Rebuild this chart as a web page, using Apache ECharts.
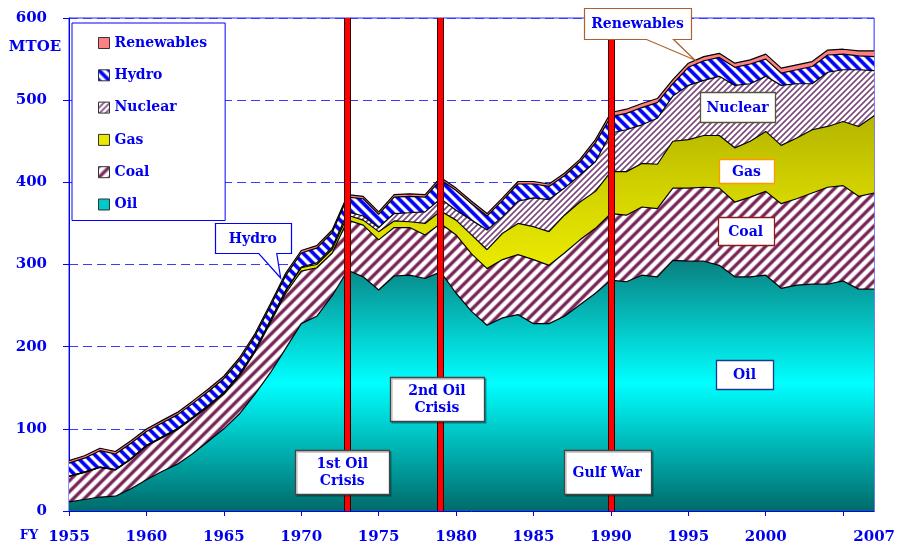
<!DOCTYPE html>
<html><head><meta charset="utf-8">
<script src="https://cdn.jsdelivr.net/npm/echarts@6/dist/echarts.min.js"></script>
<style>html,body{margin:0;padding:0;background:#fff}#c{width:898px;height:547px}</style>
</head><body><div id="c"></div><script>
// ---- data (MTOE) ----
const years = ['1955','1956','1957','1958','1959','1960','1961','1962','1963','1964','1965','1966','1967','1968','1969','1970','1971','1972','1973','1974','1975','1976','1977','1978','1979','1980','1981','1982','1983','1984','1985','1986','1987','1988','1989','1990','1991','1992','1993','1994','1995','1996','1997','1998','1999','2000','2001','2002','2003','2004','2005','2006','2007'];
const oil = [11,14,17,18,27,38,48,57,70,85,100,118,142,168,198,228,237,262,293,285,269,286,287,283,291,265,243,226,235,239,228,228,237,251,265,281,279,287,285,305,304,304,299,285,285,287,271,275,276,276,280,270,270];
const coal = [31,33,36,32,36,41,41,42,43,42,42,46,51,61,67,64,59,52,61,63,61,59,58,53,59,71,70,69,71,73,78,71,77,79,79,81,81,83,83,88,89,90,94,91,97,102,103,105,111,118,116,113,117];
const gas = [0.3,0.3,0.4,0.4,0.5,0.8,1,1,1,1.5,2,2,2,2.5,3,4,4,4.5,6,6,10,8,7,14,15,18,23,23,32,38,40,41,46,46,45,51,53,53,54,57,59,63,64,66,68,73,71,74,77,74,78,85,94];
const nuclear = [0,0,0,0,0,0,0,0,0,0,0,0.2,0.3,0.4,0.5,1,2,2.5,4,5,5,9,11,14,15,12,18,24,20,27,35,39,33,33,36,47,51,47,56,55,66,67,72,76,70,67,73,66,56,66,63,69,55];
const hydro = [16,17,20,19,19,17,17,17,17,17,17,17,17,17,18,17,18,18,18,21,16,20,20,18,23,24,20,17,20,21,17,16,15,16,23,20,20,21,19,15,22,24,23,22,24,21,15,17,21,21,19,17,17];
const renewables = [3,3,3,3,3,3,3,3,3,3,3,3,3,3,3,3,3,3,3,3,3,3,3,3,3,3,3,3,3,3,3,3,3,3,4,5,5,5,5,5,5,5,5,5,5,6,6,6,6,6,6,6,7];
const yTicks = [0,100,200,300,400,500,600];
const xLabelYears = ['1955','1960','1965','1970','1975','1980','1985','1990','1995','2000','2007'];
const eventYears = ['1973','1979','1990'];

const F = 'DejaVu Serif';
const BLUE = '#0000ee';

function hatch(size, dir, rgb, core, soft) {
  const c = document.createElement('canvas');
  c.width = c.height = size;
  const ctx = c.getContext('2d');
  const img = ctx.createImageData(size, size);
  for (let y = 0; y < size; y++) for (let x = 0; x < size; x++) {
    let t = dir > 0 ? (x + y + 1) % size : (((x - y) % size) + size) % size;
    let d = Math.min(t, size - t) / Math.SQRT2;
    let a = d <= core ? 1 : d >= core + soft ? 0 : 1 - (d - core) / soft;
    const i = (y * size + x) * 4;
    img.data[i] = Math.round(255 + (rgb[0] - 255) * a);
    img.data[i + 1] = Math.round(255 + (rgb[1] - 255) * a);
    img.data[i + 2] = Math.round(255 + (rgb[2] - 255) * a);
    img.data[i + 3] = 255;
  }
  ctx.putImageData(img, 0, 0);
  return c;
}
const coalPat = { image: hatch(11, 1, [122, 40, 90], 0.9, 1.6), repeat: 'repeat' };
const hydroPat = { image: hatch(10, -1, [0, 0, 255], 1.2, 1.3), repeat: 'repeat' };
const nucPat = { image: hatch(6, 1, [125, 75, 125], 0.4, 1.0), repeat: 'repeat' };
const oilGrad = new echarts.graphic.LinearGradient(0, 255, 0, 511, [
  { offset: 0, color: '#0a7a7a' }, { offset: 0.5, color: '#00ffff' }, { offset: 1, color: '#006a6a' }], true);
const gasGrad = new echarts.graphic.LinearGradient(0, 110, 0, 290, [
  { offset: 0, color: '#b2b200' }, { offset: 0.5, color: '#d6d600' }, { offset: 1, color: '#f0f000' }], true);

function area(name, data, fill, z) {
  return {
    name, type: 'line', stack: 'total', data, symbol: 'none', z: z || 2,
    lineStyle: { color: '#000', width: 1.2 },
    areaStyle: { color: fill, opacity: 1 },
    emphasis: { disabled: true }, silent: true
  };
}

const chart = echarts.init(document.getElementById('c'), null, { renderer: 'canvas' });
chart.setOption({
  animation: false,
  backgroundColor: '#fff',
  grid: { left: 69, right: 20, top: 18, bottom: 36, show: true, borderColor: '#2a2aff', borderWidth: 1, backgroundColor: 'transparent' },
  legend: {
    orient: 'vertical', left: 72, top: 23, padding: [13, 18, 9, 26], itemGap: 18.3,
    itemWidth: 11, itemHeight: 11, icon: 'rect', selectedMode: false,
    backgroundColor: '#fff', borderColor: '#0000ff', borderWidth: 1,
    textStyle: { color: BLUE, fontFamily: F, fontWeight: 'bold', fontSize: 14 },
    data: [
      { name: 'Renewables', itemStyle: { color: '#ff8080', borderColor: '#333', borderWidth: 1 } },
      { name: 'Hydro', itemStyle: { color: hydroPat, borderColor: '#333', borderWidth: 1 } },
      { name: 'Nuclear', itemStyle: { color: nucPat, borderColor: '#333', borderWidth: 1 } },
      { name: 'Gas', itemStyle: { color: '#e8e800', borderColor: '#333', borderWidth: 1 } },
      { name: 'Coal', itemStyle: { color: coalPat, borderColor: '#333', borderWidth: 1 } },
      { name: 'Oil', itemStyle: { color: '#00c8c8', borderColor: '#333', borderWidth: 1 } }
    ]
  },
  xAxis: {
    type: 'category', data: years, boundaryGap: false,
    axisLine: { lineStyle: { color: '#0000ff', width: 1 } },
    axisTick: { show: true, length: 5, lineStyle: { color: '#0000ff' }, interval: (i, v) => Number(v) % 5 === 0 },
    axisLabel: {
      interval: (i, v) => xLabelYears.indexOf(v) >= 0, margin: 19,
      color: BLUE, fontFamily: F, fontWeight: 'bold', fontSize: 15
    },
    splitLine: { show: false }
  },
  yAxis: {
    type: 'value', min: 0, max: 600, interval: 100,
    axisLine: { show: true, lineStyle: { color: '#0000ff', width: 1 } },
    axisTick: { show: true, length: 6, lineStyle: { color: '#0000ff' } },
    axisLabel: { margin: 22, color: BLUE, fontFamily: F, fontWeight: 'bold', fontSize: 15,
      formatter: v => yTicks.indexOf(v) >= 0 ? String(v) : '' },
    splitLine: { show: true, lineStyle: { color: '#3a3aff', type: [9, 5], width: 1 } }
  },
  series: [
    area('Oil', oil, oilGrad),
    area('Coal', coal, coalPat),
    area('Gas', gas, gasGrad),
    area('Nuclear', nuclear, nucPat),
    area('Hydro', hydro, hydroPat),
    area('Renewables', renewables, '#ff8080'),
    {
      name: 'events-black', type: 'line', data: years.map(() => null), z: 10, silent: true,
      markLine: { symbol: 'none', silent: true, label: { show: false }, animation: false,
        lineStyle: { color: '#300', width: 7, type: 'solid' },
        data: eventYears.map(y => ({ xAxis: y })) }
    },
    {
      name: 'events-red', type: 'line', data: years.map(() => null), z: 11, silent: true,
      markLine: { symbol: 'none', silent: true, label: { show: false }, animation: false,
        lineStyle: { color: '#ff0000', width: 5, type: 'solid' },
        data: eventYears.map(y => ({ xAxis: y })) }
    }
  ]
});

// ---- annotations anchored in data space ----
const boxes = [
  { text: '1st Oil\nCrisis', year: 1972.65, val: 47.5, w: 94, h: 44, stroke: '#444', shadow: true },
  { text: '2nd Oil\nCrisis', year: 1978.76, val: 136.3, w: 94, h: 44, stroke: '#444', shadow: true },
  { text: 'Gulf War', year: 1989.76, val: 47.5, w: 87, h: 44, stroke: '#444', shadow: true },
  { text: 'Oil', year: 1998.63, val: 166, w: 57, h: 29, stroke: '#1a3a8a' },
  { text: 'Coal', year: 1998.7, val: 340.8, w: 56, h: 28, stroke: '#8b1a1a' },
  { text: 'Gas', year: 1998.76, val: 413.8, w: 55, h: 24, stroke: '#ff9900' },
  { text: 'Nuclear', year: 1998.18, val: 491.7, w: 75, h: 30, stroke: '#55553a' }
];
const callouts = [
  { text: 'Renewables', year: 1991.72, val: 593.3, w: 107, h: 31, stroke: '#b0602a',
    tipYear: 1995.42, tipVal: 548.9, b1: 9, b2: 36 },
  { text: 'Hydro', year: 1966.87, val: 332, w: 76, h: 30, stroke: '#0000ff',
    tipYear: 1968.67, tipVal: 283.6, b1: 6, b2: 24 }
];
function toPx(year, val) {
  const i = year - 1955, i0 = Math.floor(i), f = i - i0;
  const a = chart.convertToPixel({ gridIndex: 0 }, [i0, val]);
  const b = chart.convertToPixel({ gridIndex: 0 }, [i0 + 1, val]);
  return [a[0] + (b[0] - a[0]) * f, a[1]];
}
const gfx = [];
const txtStyle = (t) => ({ text: t, fill: BLUE, font: 'bold 14px "' + F + '"', align: 'center', verticalAlign: 'middle', lineHeight: 17 });
boxes.forEach(b => {
  const [cx, cy] = toPx(b.year, b.val);
  gfx.push({ type: 'rect', z: 100, silent: true,
    shape: { x: Math.round(cx - b.w / 2) + 0.5, y: Math.round(cy - b.h / 2) + 0.5, width: b.w, height: b.h },
    style: Object.assign({ fill: '#fff', stroke: b.stroke, lineWidth: 1.3 },
      b.shadow ? { shadowColor: 'rgba(0,0,0,0.25)', shadowOffsetX: 1.5, shadowOffsetY: 1.5, shadowBlur: 0 } : {}) });
  gfx.push({ type: 'text', z: 101, silent: true, x: cx, y: cy + 1, style: txtStyle(b.text) });
});
callouts.forEach(c => {
  const [cx, cy] = toPx(c.year, c.val);
  const [tx, ty] = toPx(c.tipYear, c.tipVal);
  const x0 = Math.round(cx - c.w / 2) + 0.5, y0 = Math.round(cy - c.h / 2) + 0.5;
  const x1 = x0 + c.w, y1 = y0 + c.h;
  const pts = [[x0, y0], [x1, y0], [x1, y1], [cx + c.b2, y1], [tx, ty], [cx + c.b1, y1], [x0, y1]];
  gfx.push({ type: 'polygon', z: 100, silent: true, shape: { points: pts },
    style: { fill: '#fff', stroke: c.stroke, lineWidth: 1.2 } });
  gfx.push({ type: 'text', z: 101, silent: true, x: cx, y: cy + 1, style: txtStyle(c.text) });
});
gfx.push({ type: 'text', z: 101, silent: true, x: 35, y: 47, style: { text: 'MTOE', fill: BLUE, font: 'bold 15px "' + F + '"', align: 'center', verticalAlign: 'middle' } });
gfx.push({ type: 'text', z: 101, silent: true, x: 29, y: 536, style: { text: 'FY', fill: BLUE, font: 'bold 13px "' + F + '"', align: 'center', verticalAlign: 'middle' } });
chart.setOption({ graphic: gfx });
</script></body></html>
